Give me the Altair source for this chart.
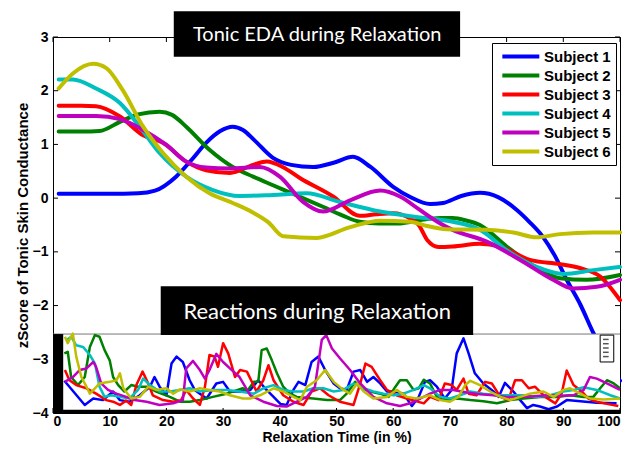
import altair as alt
import pandas as pd

subjects = ["Subject 1", "Subject 2", "Subject 3", "Subject 4", "Subject 5", "Subject 6"]
colors = ["#0000ff", "#008000", "#ff0000", "#00bfbf", "#bf00bf", "#bfbf00"]

# ---- tonic EDA (main curves): (relaxation time %, z-score) ----
tonic_s1 = [(1, 0.08), (5, 0.08), (10, 0.08), (15, 0.09), (18, 0.14), (21.7, 0.40), (24.5, 0.72),
            (27, 1.03), (29.5, 1.25), (31.7, 1.33), (33.5, 1.27), (35.5, 1.08), (38.8, 0.75),
            (42, 0.62), (45.9, 0.58), (49.5, 0.66), (52.9, 0.77), (56, 0.58), (60, 0.21),
            (63, 0.02), (66.5, -0.11), (68.8, -0.09), (72, 0.04), (75.3, 0.10), (78.5, 0.02),
            (81.8, -0.22), (84, -0.44), (86.4, -0.72), (88.5, -1.07), (90.6, -1.52), (93, -1.98),
            (95.3, -2.51), (100, -3.4)]
tonic_s2 = [(1, 1.24), (5, 1.24), (8.2, 1.25), (11.8, 1.42), (15, 1.56), (18.8, 1.61), (21, 1.55),
            (23.5, 1.33), (27.6, 0.90), (31.7, 0.58), (35.3, 0.40), (38.8, 0.24), (43, 0.05),
            (47.6, -0.16), (51, -0.32), (54.1, -0.44), (57.5, -0.47), (61.2, -0.47), (64.7, -0.41),
            (68.3, -0.37), (70.5, -0.37), (73, -0.42), (75.3, -0.50), (80, -0.90), (85.4, -1.30),
            (89.4, -1.49), (94.1, -1.52), (100, -1.43)]
tonic_s3 = [(1, 1.72), (5, 1.72), (7.6, 1.71), (11.8, 1.52), (15.9, 1.17), (19.4, 1.03), (23.5, 0.68),
            (27, 0.52), (31.2, 0.47), (35.3, 0.62), (37.7, 0.68), (40.5, 0.58), (43.6, 0.37),
            (49.4, 0.03), (54.1, -0.33), (57, -0.30), (60, -0.28), (63, -0.38), (64.5, -0.50),
            (66, -0.78), (68, -0.91), (70.5, -0.90), (75.3, -0.85), (78.8, -0.90), (84.1, -1.15),
            (89.4, -1.23), (92.9, -1.30), (96.5, -1.46), (100, -1.90)]
tonic_s4 = [(1, 2.21), (3.5, 2.21), (7.6, 2.04), (11.8, 1.77), (15.3, 1.33), (18.8, 0.84), (23.5, 0.40),
            (28.2, 0.15), (32.9, 0.04), (38.8, 0.06), (44.7, 0.09), (50.6, -0.07), (57.7, -0.25),
            (64.7, -0.36), (70.5, -0.44), (75.3, -0.59), (80, -0.97), (85.3, -1.28), (90, -1.41),
            (95.3, -1.34), (100, -1.28)]
tonic_s5 = [(1, 1.53), (5, 1.53), (7.6, 1.53), (11.8, 1.47), (15.9, 1.27), (20, 0.99), (23.5, 0.68),
            (27, 0.57), (31.2, 0.55), (36.5, 0.58), (40, 0.40), (44.1, -0.07), (47.6, -0.25),
            (52.4, -0.04), (57.7, 0.14), (61.2, 0.03), (64.7, -0.22), (68.3, -0.47), (70.5, -0.59),
            (76.5, -0.81), (82.4, -1.15), (88.2, -1.52), (91.7, -1.68), (95.9, -1.65), (100, -1.52)]
tonic_s6 = [(1, 2.04), (3.5, 2.32), (7.1, 2.50), (9.4, 2.42), (12.3, 2.01), (15.9, 1.33), (19.4, 0.84),
            (23.5, 0.40), (27.6, 0.09), (31.7, -0.09), (35.3, -0.27), (38, -0.45), (40.6, -0.71),
            (46.5, -0.74), (52.4, -0.54), (57.7, -0.42), (63, -0.44), (66, -0.52), (69.4, -0.58),
            (76.5, -0.59), (81.2, -0.64), (85.3, -0.73), (89.4, -0.67), (95.3, -0.64), (100, -0.64)]

# ---- reactions inset (drawn in the main axes' units, band -2.5 .. -4) ----
react_s1 = [(2.0, -3.40), (5.6, -3.85), (7.1, -3.73), (8.8, -3.76), (10.6, -3.60), (11.8, -3.76),
            (13.5, -3.79), (15.3, -3.67), (17.1, -3.51), (17.9, -3.33), (18.8, -3.51), (20.0, -3.67),
            (20.9, -3.08), (21.8, -2.95), (22.9, -3.05), (24.1, -3.39), (25.0, -3.57), (25.9, -3.64),
            (27.1, -3.73), (28.8, -3.45), (30.0, -3.42), (31.2, -3.60), (33.0, -3.60), (34.8, -3.57),
            (36.2, -3.39), (37.4, -3.54), (38.9, -3.70), (40.1, -3.83), (41.2, -3.85), (42.4, -3.57),
            (43.3, -3.42), (44.5, -3.48), (45.6, -3.05), (46.8, -2.95), (48.0, -3.20), (49.5, -3.45),
            (50.6, -3.54), (51.8, -3.57), (53.0, -3.23), (54.2, -3.20), (55.4, -3.42), (56.5, -3.33),
            (57.7, -3.45), (58.9, -3.60), (60.1, -3.60), (61.8, -3.64), (63.3, -3.87), (64.5, -3.70),
            (65.6, -3.42), (66.5, -3.39), (67.7, -3.51), (69.1, -3.73), (70.3, -3.57), (71.2, -2.89),
            (72.4, -2.61), (73.3, -2.89), (74.4, -3.26), (75.9, -3.45), (77.7, -3.60), (78.6, -3.70),
            (79.7, -3.44), (81.2, -3.60), (82.4, -3.76), (83.6, -3.91), (84.7, -3.85), (85.9, -3.88),
            (87.4, -3.93), (88.9, -3.88), (90.6, -3.76), (93.0, -3.78), (95.9, -3.81), (99.4, -3.82)]
react_s2 = [(2.0, -2.89), (2.6, -2.86), (3.2, -3.33), (4.4, -3.48), (5.6, -3.33), (6.5, -2.77),
            (7.4, -2.55), (8.2, -2.58), (9.1, -2.83), (10.0, -3.02), (10.6, -3.33), (11.5, -3.48),
            (12.6, -3.60), (13.8, -3.48), (15.0, -3.51), (16.5, -3.51), (18.2, -3.60), (20.6, -3.70),
            (22.4, -3.79), (24.1, -3.79), (25.9, -3.76), (28.2, -3.70), (30.6, -3.64), (33.5, -3.54),
            (34.2, -3.60), (35.4, -3.42), (36.2, -3.42), (36.8, -2.83), (37.7, -2.80), (38.6, -3.02),
            (39.5, -3.26), (40.6, -3.51), (41.8, -3.64), (43.0, -3.70), (45.9, -3.73), (48.3, -3.76),
            (50.6, -3.76), (51.8, -3.64), (53.3, -3.42), (54.5, -3.54), (55.9, -3.60), (57.7, -3.64),
            (59.2, -3.70), (60.4, -3.51), (61.2, -3.39), (62.4, -3.39), (63.6, -3.57), (64.5, -3.54),
            (65.4, -3.38), (66.5, -3.45), (67.7, -3.70), (68.9, -3.76), (71.2, -3.73), (73.6, -3.76),
            (75.9, -3.78), (78.3, -3.82), (80.6, -3.76), (83.0, -3.73), (85.9, -3.70), (88.9, -3.70),
            (91.2, -3.67), (93.6, -3.70), (95.3, -3.70), (96.5, -3.54), (97.7, -3.39), (98.9, -3.45),
            (100, -3.54)]
react_s3 = [(2.1, -3.20), (2.9, -3.39), (4.1, -3.48), (5.9, -3.54), (7.6, -3.64), (9.4, -3.76),
            (10.6, -3.79), (11.8, -3.85), (12.9, -3.77), (13.8, -3.85), (14.7, -3.48), (15.8, -3.23),
            (16.8, -3.45), (17.6, -3.67), (19.4, -3.76), (21.2, -3.79), (22.6, -3.76), (23.5, -3.57),
            (24.7, -3.73), (25.9, -3.85), (26.8, -3.51), (27.6, -2.92), (28.5, -2.95), (29.1, -3.14),
            (30.0, -2.70), (30.9, -2.89), (32.1, -3.33), (33.0, -3.20), (34.2, -3.23), (35.9, -3.60),
            (37.1, -3.39), (38.0, -3.11), (38.9, -3.39), (40.6, -3.67), (42.4, -3.79), (44.2, -3.85),
            (45.6, -3.60), (47.1, -3.54), (48.6, -3.67), (50.6, -3.79), (53.0, -3.85), (54.2, -3.45),
            (55.1, -3.08), (56.2, -3.14), (57.7, -3.39), (58.9, -3.57), (60.6, -3.67), (62.4, -3.73),
            (65.4, -3.82), (66.5, -3.70), (68.0, -3.76), (69.1, -3.45), (70.3, -3.48), (71.2, -3.57),
            (72.4, -3.36), (73.3, -3.64), (74.7, -3.67), (76.2, -3.42), (77.4, -3.45), (78.9, -3.70),
            (80.3, -3.76), (81.5, -3.39), (82.7, -3.39), (83.9, -3.54), (85.0, -3.51), (86.8, -3.70),
            (88.6, -3.82), (89.7, -3.64), (90.6, -3.21), (91.8, -3.48), (93.3, -3.60), (94.4, -3.73),
            (95.9, -3.79), (97.7, -3.83), (99.7, -3.87)]
react_s4 = [(2.4, -2.64), (3.2, -2.58), (4.1, -2.74), (5.3, -2.77), (6.5, -2.92), (7.4, -3.08),
            (8.2, -3.51), (9.1, -3.70), (10.3, -3.67), (11.8, -3.70), (13.5, -3.73), (15.0, -3.57),
            (15.9, -3.36), (17.1, -3.48), (18.8, -3.60), (20.6, -3.60), (22.4, -3.57), (24.1, -3.54),
            (25.9, -3.60), (28.2, -3.57), (30.6, -3.57), (33.0, -3.60), (35.4, -3.64), (37.1, -3.54),
            (38.9, -3.48), (40.6, -3.57), (42.4, -3.60), (44.2, -3.60), (45.9, -3.54), (47.7, -3.54),
            (49.5, -3.60), (51.2, -3.57), (53.0, -3.45), (54.8, -3.54), (56.5, -3.60), (58.3, -3.64),
            (60.1, -3.67), (61.8, -3.64), (63.6, -3.57), (65.4, -3.48), (66.5, -3.54), (68.3, -3.70),
            (70.0, -3.73), (71.8, -3.67), (73.6, -3.60), (75.9, -3.64), (78.3, -3.67), (80.6, -3.67),
            (83.0, -3.67), (85.3, -3.70), (87.7, -3.67), (90.0, -3.60), (91.8, -3.57), (93.6, -3.52),
            (95.9, -3.57), (98.3, -3.67), (100, -3.73)]
react_s5 = [(2.1, -3.42), (3.5, -3.33), (4.7, -3.20), (5.9, -3.17), (7.1, -3.05), (7.6, -3.14),
            (8.5, -3.45), (9.7, -3.57), (11.2, -3.64), (12.9, -3.70), (14.4, -3.76), (16.5, -3.79),
            (18.8, -3.85), (21.2, -3.82), (22.9, -3.76), (23.5, -3.17), (24.7, -3.03), (25.9, -3.20),
            (26.8, -3.36), (27.6, -3.20), (28.8, -2.90), (30.0, -3.05), (31.2, -3.17), (32.9, -3.33),
            (34.8, -3.67), (37.1, -3.79), (39.5, -3.87), (41.2, -3.88), (43.0, -3.79), (44.8, -3.70),
            (46.2, -3.51), (47.4, -2.64), (48.2, -2.55), (49.2, -2.80), (50.6, -2.98), (52.4, -3.20),
            (54.2, -3.45), (56.5, -3.70), (58.9, -3.82), (61.2, -3.87), (63.0, -3.82), (64.8, -3.73),
            (66.5, -3.64), (68.3, -3.57), (70.6, -3.57), (73.0, -3.62), (75.3, -3.65), (77.7, -3.67),
            (80.0, -3.70), (82.4, -3.70), (84.7, -3.69), (87.1, -3.67), (89.4, -3.68), (91.8, -3.67),
            (93.6, -3.57), (94.7, -3.33), (95.9, -3.36), (97.7, -3.45), (100, -3.57)]
react_s6 = [(2.1, -2.58), (2.6, -2.70), (3.5, -2.52), (4.1, -2.95), (5.0, -3.33), (5.9, -3.51),
            (6.5, -3.64), (7.4, -3.54), (8.2, -3.45), (10.0, -3.42), (11.2, -3.39), (11.8, -3.26),
            (12.4, -3.54), (13.8, -3.73), (15.3, -3.70), (16.8, -3.51), (18.2, -3.57), (20.0, -3.54),
            (21.2, -3.64), (22.4, -3.56), (24.1, -3.60), (25.9, -3.54), (27.6, -3.57), (29.4, -3.60),
            (31.2, -3.67), (33.5, -3.73), (34.8, -3.73), (36.5, -3.67), (38.9, -3.54), (40.6, -3.60),
            (42.4, -3.70), (43.6, -3.76), (44.8, -3.51), (46.5, -3.39), (48.0, -3.20), (49.5, -3.42),
            (51.2, -3.57), (52.4, -3.64), (53.6, -3.45), (54.8, -3.60), (56.5, -3.73), (58.9, -3.70),
            (60.6, -3.57), (62.4, -3.70), (64.2, -3.73), (66.5, -3.67), (68.3, -3.76), (70.0, -3.79),
            (71.5, -3.70), (72.7, -3.48), (73.6, -3.40), (75.3, -3.48), (77.1, -3.60), (78.9, -3.70),
            (80.6, -3.76), (82.4, -3.70), (84.1, -3.64), (86.5, -3.60), (88.3, -3.70), (90.0, -3.57),
            (91.2, -3.54), (93.0, -3.64), (94.7, -3.73), (97.1, -3.75), (100, -3.73)]

x_ticks = [0, 10, 20, 30, 40, 50, 60, 70, 80, 90, 100]
y_ticks = [-4, -3, -2, -1, 0, 1, 2, 3]

main_title = "Tonic EDA during Relaxation"
inset_title = "Reactions during Relaxation"


def to_frame(series_list):
    rows = []
    for name, pts in zip(subjects, series_list):
        for px, py in pts:
            rows.append({"x": px, "y": py, "subject": name})
    return pd.DataFrame(rows)


tonic_df = to_frame([tonic_s1, tonic_s2, tonic_s3, tonic_s4, tonic_s5, tonic_s6])
react_df = to_frame([react_s1, react_s2, react_s3, react_s4, react_s5, react_s6])

FONT = "Liberation Sans"
xscale = alt.Scale(domain=[0, 100], nice=False, zero=False)
yscale = alt.Scale(domain=[-4, 3], nice=False, zero=False)
xaxis = alt.Axis(values=x_ticks, title="Relaxation Time (in %)", labelPadding=1,
                 labelFontSize=14, titleY=31, titleBaseline="bottom", titleFontSize=14)
yaxis = alt.Axis(values=y_ticks, title="zScore of Tonic Skin Conductance", labelPadding=5,
                 labelFontSize=14, titleX=-26, titleBaseline="alphabetic", titleFontSize=15)

legend = alt.Legend(orient="none", legendX=439, legendY=6, title=None,
                    symbolType="M-1,0H5", symbolSize=152, symbolStrokeWidth=4,
                    labelFont=FONT, labelFontSize=15, labelFontWeight="bold", labelColor="black",
                    strokeColor="black", fillColor="white", padding=5, rowPadding=2,
                    labelOffset=27, symbolOffset=3)
color = alt.Color("subject:N", scale=alt.Scale(domain=subjects, range=colors), legend=legend)


def X(field="x"):
    return alt.X(f"{field}:Q", scale=xscale, axis=xaxis)


def Y(field="y"):
    return alt.Y(f"{field}:Q", scale=yscale, axis=yaxis)


main_lines = alt.Chart(tonic_df).mark_line(strokeWidth=4, interpolate="monotone",
                                           strokeCap="round").encode(x=X(), y=Y(), color=color)

# inset panel (white background, borders)
inset_bg = pd.DataFrame([{"x": 0, "x2": 100, "y": -4, "y2": -2.53}])
inset_rect = alt.Chart(inset_bg).mark_rect(color="white").encode(
    x=X(), x2="x2", y=Y(), y2="y2")
inset_top = alt.Chart(inset_bg).mark_rule(color="#777777", strokeWidth=1).encode(
    x=X(), x2="x2", y=alt.Y("y2:Q", scale=yscale, axis=yaxis))
left_bar = pd.DataFrame([{"x": 0, "x2": 1.8, "y": -4, "y2": -2.53}])
left_rect = alt.Chart(left_bar).mark_rect(color="black").encode(x=X(), x2="x2", y=Y(), y2="y2")
bottom_bar = pd.DataFrame([{"x": 0, "x2": 100, "y": -4, "y2": -3.94}])
bottom_rect = alt.Chart(bottom_bar).mark_rect(color="black").encode(x=X(), x2="x2", y=Y(), y2="y2")

react_lines = alt.Chart(react_df).mark_line(strokeWidth=2.5, strokeJoin="round").encode(
    x=X(), y=Y(), color=color)

mini_leg = pd.DataFrame([{"x": 96.5, "x2": 98.9, "y": -3.05, "y2": -2.55}])
mini_rect = alt.Chart(mini_leg).mark_rect(fill="white", stroke="black", strokeWidth=1).encode(
    x=X(), x2="x2", y=Y(), y2="y2")
mini_rows = pd.DataFrame({"x": [97.0] * 5, "x2": [98.0] * 5,
                          "y": [-2.63, -2.71, -2.79, -2.87, -2.95]})
mini_marks = alt.Chart(mini_rows).mark_rule(color="#555555", strokeWidth=1.5).encode(
    x=X(), x2="x2", y=Y())

# title boxes
boxes = pd.DataFrame([
    {"x": 21.3, "x2": 71.8, "y": 2.63, "y2": 3.48},
    {"x": 19.0, "x2": 74.1, "y": -2.55, "y2": -1.64},
])
box_rects = alt.Chart(boxes).mark_rect(color="black").encode(x=X(), x2="x2", y=Y(), y2="y2")
title1 = alt.Chart(pd.DataFrame([{"x": 46.6, "y": 3.04, "t": main_title}])).mark_text(
    color="white", font="Lato", fontSize=20, baseline="middle", align="center").encode(
    x=X(), y=Y(), text="t:N")
title2 = alt.Chart(pd.DataFrame([{"x": 46.6, "y": -2.12, "t": inset_title}])).mark_text(
    color="white", font="Lato", fontSize=22, baseline="middle", align="center").encode(
    x=X(), y=Y(), text="t:N")

# inward tick marks (MATLAB style)
xt = pd.DataFrame({"v": x_ticks})
yt = pd.DataFrame({"v": y_ticks})
tick_b = alt.Chart(xt).mark_rule(color="black").encode(x=X("v"), y=alt.value(376), y2=alt.value(371))
tick_t = alt.Chart(xt).mark_rule(color="black").encode(x=X("v"), y=alt.value(0), y2=alt.value(5))
tick_l = alt.Chart(yt).mark_rule(color="black").encode(y=Y("v"), x=alt.value(0), x2=alt.value(5))
tick_r = alt.Chart(yt).mark_rule(color="black").encode(y=Y("v"), x=alt.value(567), x2=alt.value(562))

chart = alt.layer(
    main_lines, tick_t, tick_l, tick_r,
    inset_rect, inset_top, react_lines, left_rect, bottom_rect, mini_rect, mini_marks,
    tick_b, box_rects, title1, title2,
).properties(
    width=567, height=376,
    autosize=alt.AutoSizeParams(type="none"),
    padding={"left": 45, "top": 29, "right": 3, "bottom": 31},
).configure_view(
    stroke="black", strokeWidth=1
).configure_axis(
    grid=False, domain=False, ticks=False, tickSize=0,
    labelFont=FONT, labelFontWeight="bold", labelColor="black",
    titleFont=FONT, titleFontWeight="bold", titleColor="black",
)

chart.save("out.html", embed_options={"renderer": "svg", "actions": False})
